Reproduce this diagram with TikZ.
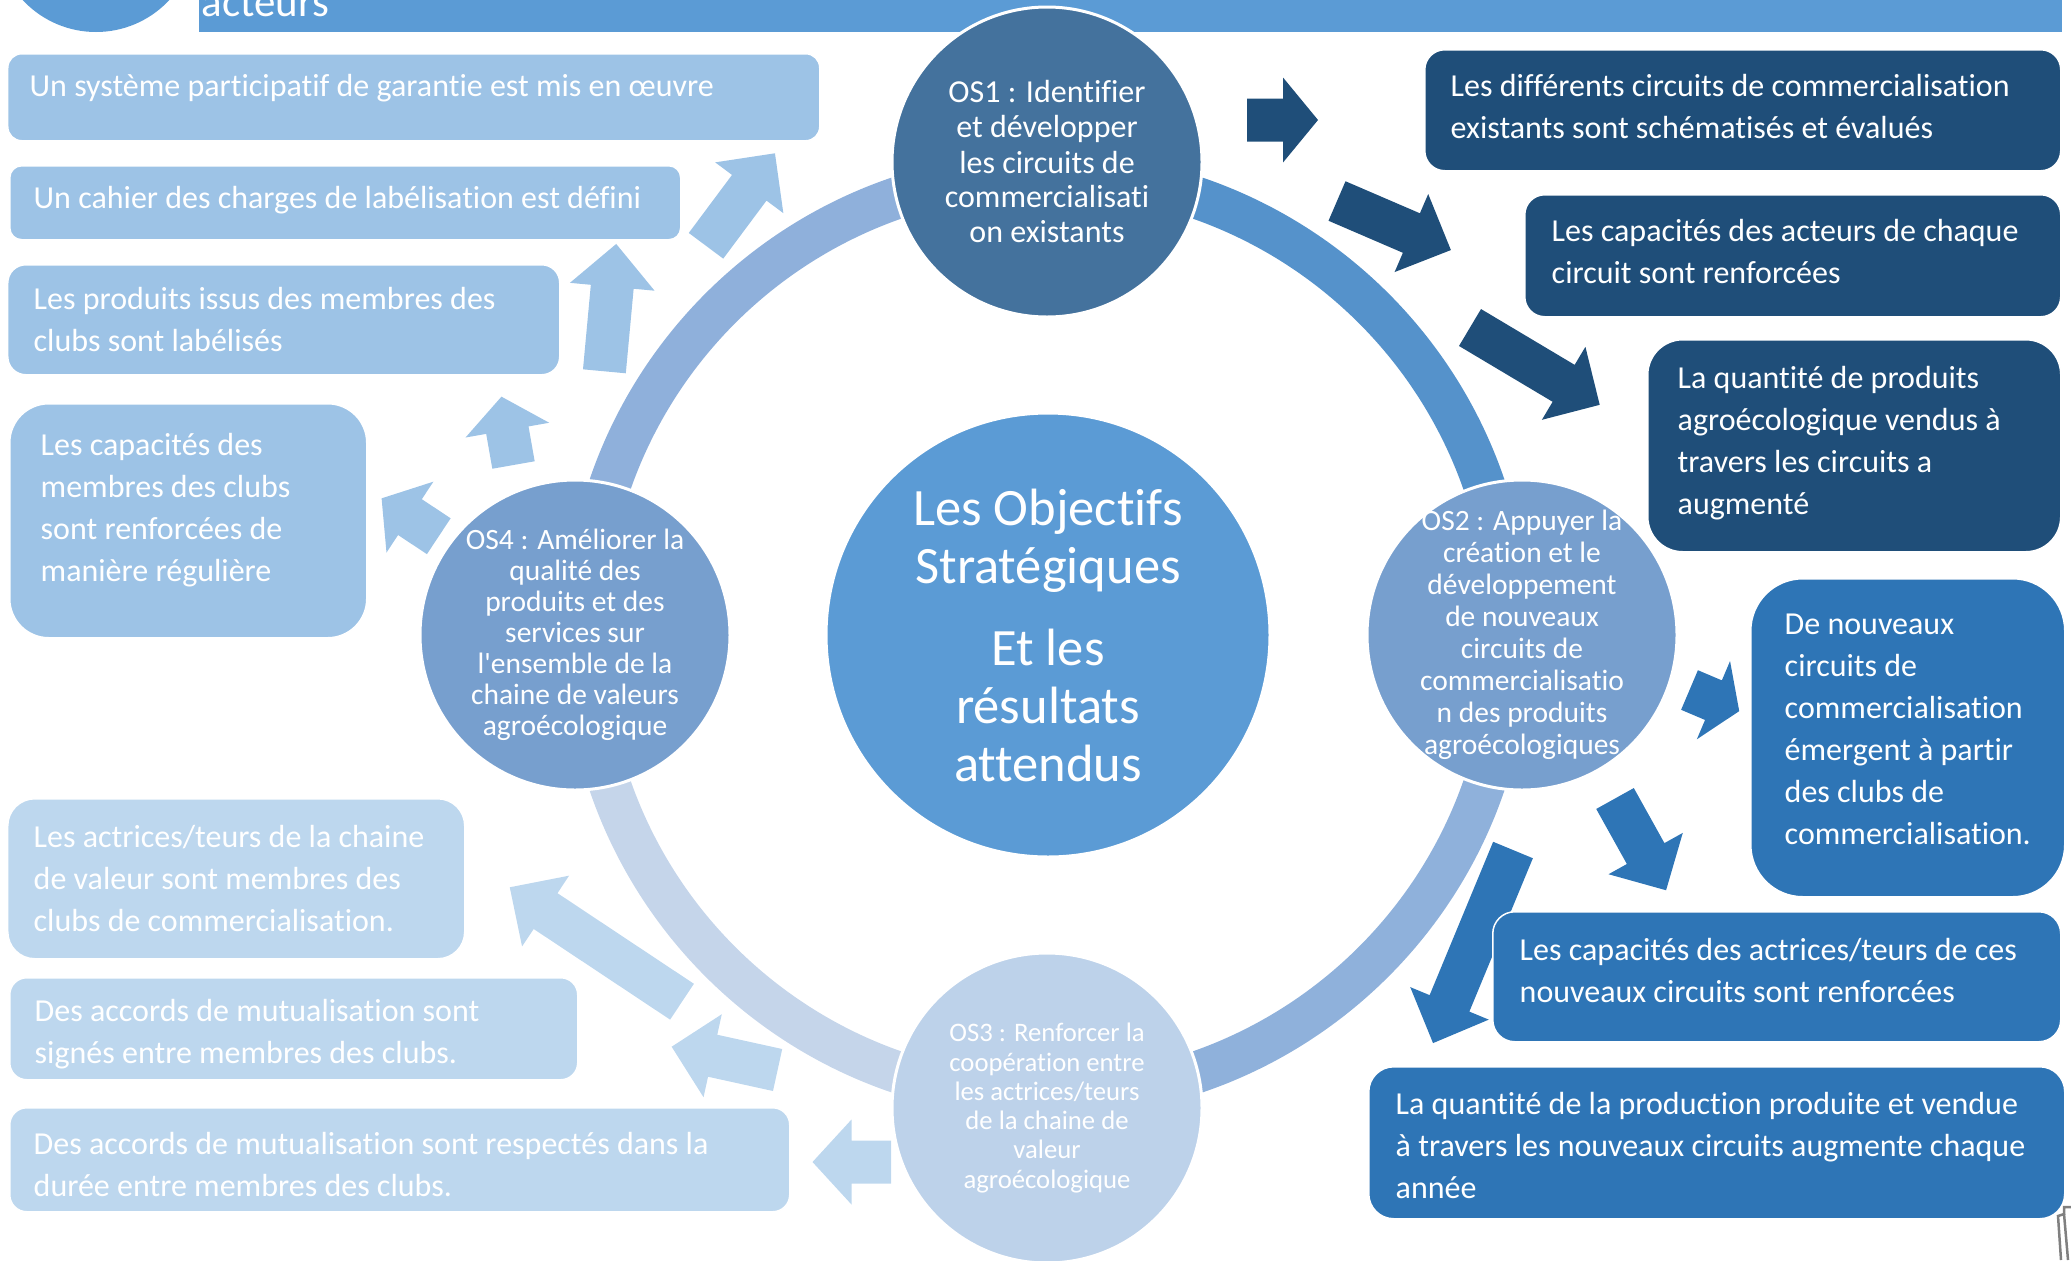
\documentclass[tikz,border=0pt]{standalone}
\usepackage{fontspec}
\setmainfont{Carlito}[Ligatures={TeX,NoCommon}]
\usetikzlibrary{positioning}

\definecolor{hdrblue}{HTML}{5B9BD5}
\definecolor{darkblue}{HTML}{1F4E79}
\definecolor{midblue}{HTML}{2E75B6}
\definecolor{lightblue}{HTML}{9DC3E6}
\definecolor{paleblue}{HTML}{BDD7EE}
\definecolor{osone}{HTML}{44729D}
\definecolor{ostwo}{HTML}{779FCE}
\definecolor{osthree}{HTML}{BDD2EA}
\definecolor{ringtr}{HTML}{5592CB}
\definecolor{ringtl}{HTML}{8FB0DB}
\definecolor{ringbr}{HTML}{8FB1DB}
\definecolor{ringbl}{HTML}{C5D5EA}

\newcommand{\boxfont}{\fontsize{3.2mm}{4.2mm}\selectfont}
\newcommand{\centrefont}{\fontsize{5.25mm}{5.8mm}\selectfont}
\newcommand{\osonefont}{\fontsize{3.2mm}{3.5mm}\selectfont}
\newcommand{\ostwofont}{\fontsize{2.95mm}{3.2mm}\selectfont}
\newcommand{\osfourfont}{\fontsize{2.95mm}{3.1mm}\selectfont}
\newcommand{\osthreefont}{\fontsize{2.67mm}{2.93mm}\selectfont}
\newcommand{\headfont}{\fontsize{4.3mm}{5mm}\selectfont}

\begin{document}
\begin{tikzpicture}
[x=0.1mm, y=-0.1mm,
 circledecorate/.style={shape=circle,minimum size=31mm,inner sep=0pt,draw=white,line width=0.3mm},
 circletext/.style={text=white,align=center,inner sep=0pt},
 boxdecorate/.style={shape=rectangle,anchor=north west,inner sep=0pt,draw=white,line width=0.15mm},
 boxtext/.style={text=white,align=left,inner sep=0pt,font=\boxfont},
 ringdecorate/.style={line width=4.2mm}]
\useasboundingbox (0,0) rectangle (2071,1260);
\clip (0,0) rectangle (2071,1260);

%% header
\fill[hdrblue] (96,-68) circle[radius=100];
\fill[hdrblue] (199,0) rectangle (2062,32);
\node[anchor=base west,text=white,font=\headfont,inner sep=0pt] (hdr) at (201,16) {acteurs};

%% ring
\draw[ringdecorate,draw=ringtr] (1047,635) ++(-90:462) arc[start angle=-90,end angle=0,radius=462];
\draw[ringdecorate,draw=ringbr] (1047,635) ++(0:462) arc[start angle=0,end angle=90,radius=462];
\draw[ringdecorate,draw=ringbl] (1047,635) ++(90:462) arc[start angle=90,end angle=180,radius=462];
\draw[ringdecorate,draw=ringtl] (1047,635) ++(180:462) arc[start angle=180,end angle=270,radius=462];

%% circles
\node[circledecorate,fill=hdrblue,minimum size=44.4mm,text=white,align=center,font=\centrefont] (centre) at (1048,635)
  {Les Objectifs\\Stratégiques\\[2.4mm]Et les\\résultats\\attendus};
\node[circledecorate,fill=osone] (os1) at (1047,162) {};
\node[circledecorate,fill=ostwo] (os2) at (1522,635) {};
\node[circledecorate,fill=osthree] (os3) at (1047,1108) {};
\node[circledecorate,fill=ostwo] (os4) at (575,635) {};
\node[circletext,font=\osonefont] (os1t) at (os1) {OS1 : Identifier\\et développer\\les circuits de\\commercialisati\\on existants};
\node[circletext,font=\ostwofont] (os2t) at (os2) {OS2 : Appuyer la\\création et le\\développement\\de nouveaux\\circuits de\\commercialisatio\\n des produits\\agroécologiques};
\node[circletext,font=\osthreefont] (os3t) at (os3) {OS3 : Renforcer la\\coopération entre\\les actrices/teurs\\de la chaine de\\valeur\\agroécologique};
\node[circletext,font=\osfourfont] (os4t) at (os4) {OS4 : Améliorer la\\qualité des\\produits et des\\services sur\\l\textquotesingle ensemble de la\\chaine de valeurs\\agroécologique};

%% block arrows
\foreach \arrowcolor/\x/\y/\dir/\arrowlen/\headlen in {
  darkblue/1247/120/0/71/35, darkblue/1337/201/-23.3/124/43, darkblue/1470/327.5/-30.8/151/42,
  midblue/1689.5/690/-23/54/28, midblue/1615/798.5/-60.9/105/42, midblue/1513/850/-112.5/209/43,
  lightblue/438.8/536.2/146.5/68.6/34, lightblue/513.5/465/100/69.4/34,
  lightblue/604.4/371.3/84.7/127.9/43, lightblue/706/245.8/53.3/115.4/43,
  paleblue/682/1001.7/146.4/206.8/43, paleblue/777.6/1070/167.6/108.5/42, paleblue/891/1162/180/78.5/39} {
  \fill[\arrowcolor,shift={(\x,\y)},rotate=\dir] (0,-21.5) -- ({\arrowlen-\headlen},-21.5) -- ({\arrowlen-\headlen},-42.5)
    -- (\arrowlen,0) -- ({\arrowlen-\headlen},42.5) -- ({\arrowlen-\headlen},21.5) -- (0,21.5) -- cycle;
}

%% results of OS4
\node[boxdecorate,fill=lightblue,minimum width=81.2mm,minimum height=8.7mm,rounded corners=1.4mm] (b1) at (7,53) {};
\node[boxdecorate,fill=lightblue,minimum width=67.1mm,minimum height=7.4mm,rounded corners=1.2mm] (b2) at (9,165) {};
\node[boxdecorate,fill=lightblue,minimum width=55.2mm,minimum height=11mm,rounded corners=1.8mm] (b3) at (7,264) {};
\node[boxdecorate,fill=lightblue,minimum width=35.7mm,minimum height=23.4mm,rounded corners=3.9mm] (b4) at (9,403) {};
\node[boxtext,right=2.2mm of b1.west,yshift=0.95mm] (b1t) {Un système participatif de garantie est mis en œuvre};
\node[boxtext,right=2.4mm of b2.west,yshift=0.3mm] (b2t) {Un cahier des charges de labélisation est défini};
\node[boxtext,right=2.6mm of b3.west] (b3t) {Les produits issus des membres des\\clubs sont labélisés};
\node[boxtext,right=3.1mm of b4.west,yshift=1.1mm] (b4t) {Les capacités des\\membres des clubs\\sont renforcées de\\manière régulière};

%% results of OS3
\node[boxdecorate,fill=paleblue,minimum width=45.7mm,minimum height=16mm,rounded corners=2.7mm] (b5) at (7,798) {};
\node[boxdecorate,fill=paleblue,minimum width=56.8mm,minimum height=10.2mm,rounded corners=1.7mm] (b6) at (9,977) {};
\node[boxdecorate,fill=paleblue,minimum width=78mm,minimum height=10.4mm,rounded corners=1.7mm] (b7) at (9,1107) {};
\node[boxtext,right=2.6mm of b5.west] (b5t) {Les actrices/teurs de la chaine\\de valeur sont membres des\\clubs de commercialisation.};
\node[boxtext,right=2.5mm of b6.west,yshift=-0.5mm] (b6t) {Des accords de mutualisation sont\\signés entre membres des clubs.};
\node[boxtext,right=2.4mm of b7.west,yshift=-0.45mm] (b7t) {Des accords de mutualisation sont respectés dans la\\durée entre membres des clubs.};

%% results of OS1
\node[boxdecorate,fill=darkblue,minimum width=63.6mm,minimum height=12.1mm,rounded corners=2mm] (r1) at (1424,49) {};
\node[boxdecorate,fill=darkblue,minimum width=53.6mm,minimum height=12.2mm,rounded corners=2mm] (r2) at (1524,194) {};
\node[boxdecorate,fill=darkblue,minimum width=41.3mm,minimum height=21.2mm,rounded corners=3.5mm] (r3) at (1647,339) {};
\node[boxtext,right=2.6mm of r1.west,yshift=0.35mm] (r1t) {Les différents circuits de commercialisation\\existants sont schématisés et évalués};
\node[boxtext,right=2.7mm of r2.west,yshift=0.4mm] (r2t) {Les capacités des acteurs de chaque\\circuit sont renforcées};
\node[boxtext,right=3mm of r3.west,yshift=0.25mm] (r3t) {La quantité de produits\\agroécologique vendus à\\travers les circuits a\\augmenté};

%% results of OS2
\node[boxdecorate,fill=midblue,minimum width=31.4mm,minimum height=31.8mm,rounded corners=5.2mm] (r4) at (1750,578) {};
\node[boxdecorate,fill=midblue,minimum width=56.8mm,minimum height=13mm,rounded corners=2.2mm] (r5) at (1492,911) {};
\node[boxdecorate,fill=midblue,minimum width=69.6mm,minimum height=15.2mm,rounded corners=2.5mm] (r6) at (1368,1066) {};
\node[boxtext,right=3.4mm of r4.west,yshift=0.8mm] (r4t) {De nouveaux\\circuits de\\commercialisation\\émergent à partir\\des clubs de\\commercialisation.};
\node[boxtext,right=2.7mm of r5.west,yshift=0.65mm] (r5t) {Les capacités des actrices/teurs de ces\\nouveaux circuits sont renforcées};
\node[boxtext,right=2.7mm of r6.west,yshift=-0.3mm] (r6t) {La quantité de la production produite et vendue\\à travers les nouveaux circuits augmente chaque\\année};

%% corner mark
\draw[gray,line width=0.25mm] (2071,1207) -- (2064,1207) -- (2064,1214) -- (2058,1216) -- (2061,1260);
\draw[gray,line width=0.25mm] (2064,1214) -- (2068,1260);
\end{tikzpicture}
\end{document}
